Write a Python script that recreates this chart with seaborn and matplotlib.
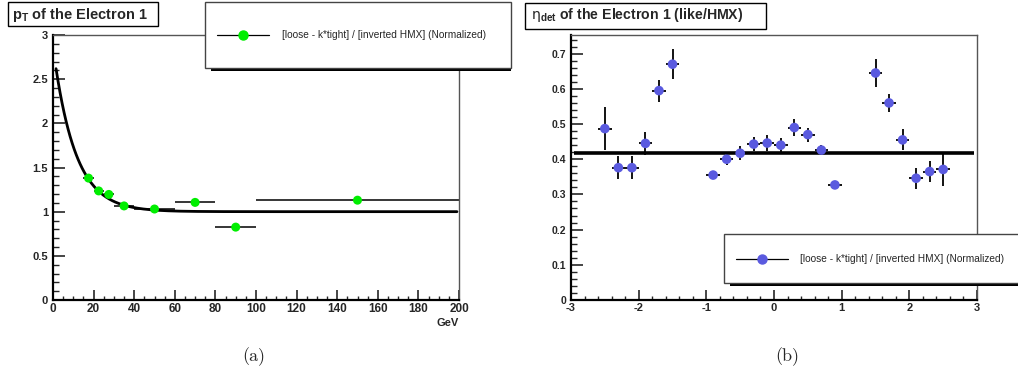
import numpy as np
import matplotlib
matplotlib.use("Agg")
import matplotlib.pyplot as plt
from matplotlib.patches import Rectangle
from matplotlib.lines import Line2D
from matplotlib.ticker import MultipleLocator
import pandas as pd
import seaborn as sns

# left panel: pT ratio per bin
pt_centers = [17.5, 22.5, 27.5, 35, 50, 70, 90, 150]
pt_halfwidth = [2.5, 2.5, 2.5, 5, 10, 10, 10, 50]
pt_ratio = [1.38, 1.235, 1.195, 1.065, 1.03, 1.105, 0.825, 1.13]
pt_err = [0.02, 0.015, 0.015, 0.012, 0.01, 0.012, 0.012, 0.01]
# exponential fit: const + amp * exp(-x / tau)
fit_const, fit_amp, fit_tau = 1.0, 1.86, 10.8
fit_lo, fit_hi = 1.5, 199

# right panel: eta_det ratio per bin
eta_centers = [-2.5, -2.3, -2.1, -1.9, -1.7, -1.5, -0.9, -0.7, -0.5, -0.3, -0.1,
               0.1, 0.3, 0.5, 0.7, 0.9, 1.5, 1.7, 1.9, 2.1, 2.3, 2.5]
eta_ratio = [0.487, 0.376, 0.376, 0.445, 0.595, 0.670, 0.355, 0.400, 0.417, 0.443, 0.446,
             0.440, 0.490, 0.470, 0.426, 0.327, 0.645, 0.560, 0.455, 0.346, 0.365, 0.371]
eta_err = [0.06, 0.033, 0.033, 0.033, 0.031, 0.043, 0.01, 0.017, 0.02, 0.02, 0.022,
           0.02, 0.025, 0.02, 0.015, 0.01, 0.04, 0.026, 0.03, 0.03, 0.03, 0.047]
eta_fit = 0.418

legend_text = "[loose - k*tight] / [inverted HMX] (Normalized)"
green = "#00ee00"
blue = "#5a5adf"

sns.set_style("ticks")
plt.rcParams["font.family"] = ["Liberation Sans", "DejaVu Sans"]
plt.rcParams["axes.unicode_minus"] = False
plt.rcParams["mathtext.fontset"] = "custom"
plt.rcParams["mathtext.bf"] = "Liberation Sans:bold"
plt.rcParams["mathtext.rm"] = "DejaVu Sans"

W, H = 1018, 385
fig = plt.figure(figsize=(W / 100, H / 100), dpi=100)


def fx(x):
    return x / W


def fy(y):
    return 1 - y / H


def style_axes(ax, ylen, xlen, xsize, ysize):
    for s in ["left", "bottom"]:
        ax.spines[s].set_linewidth(1.6)
        ax.spines[s].set_color("black")
    for s in ["top", "right"]:
        ax.spines[s].set_linewidth(1.0)
        ax.spines[s].set_color("#555555")
    ax.tick_params(axis="y", which="major", direction="in", length=ylen, width=1.2,
                   labelsize=ysize, pad=3.5, right=False)
    ax.tick_params(axis="y", which="minor", direction="in", length=ylen / 2, width=1.0, right=False)
    ax.tick_params(axis="x", which="major", direction="in", length=xlen, width=1.2,
                   labelsize=xsize, pad=2, top=False)
    ax.tick_params(axis="x", which="minor", direction="in", length=xlen / 2.4, width=1.0, top=False)
    for lab in ax.get_xticklabels() + ax.get_yticklabels():
        lab.set_fontweight("bold")
    ax.set_xlabel("")
    ax.set_ylabel("")


# ---------- left panel ----------
ax1 = fig.add_axes([fx(53), fy(300), fx(406), 265 / H])
df_pt = pd.DataFrame({"pt": pt_centers, "ratio": pt_ratio})
xs = np.linspace(fit_lo, fit_hi, 400)
df_fit = pd.DataFrame({"pt": xs, "fit": fit_const + fit_amp * np.exp(-xs / fit_tau)})
ax1.errorbar(pt_centers, pt_ratio, xerr=pt_halfwidth, yerr=pt_err, fmt="none",
             ecolor="black", elinewidth=1.1, zorder=2)
sns.lineplot(data=df_fit, x="pt", y="fit", ax=ax1, color="black", lw=2.0, zorder=3)
sns.scatterplot(data=df_pt, x="pt", y="ratio", ax=ax1, color=green, s=42,
                edgecolor="none", zorder=4)
ax1.set_xlim(0, 200)
ax1.set_ylim(0, 3)
ax1.xaxis.set_major_locator(MultipleLocator(20))
ax1.xaxis.set_minor_locator(MultipleLocator(5))
ax1.yaxis.set_minor_locator(MultipleLocator(0.1))
ax1.set_yticks([0, 0.5, 1, 1.5, 2, 2.5, 3])
ax1.set_yticklabels(["0", "0.5", "1", "1.5", "2", "2.5", "3"])
style_axes(ax1, 8.5, 7, 8.5, 8)
fig.text(fx(459), fy(323), "GeV", ha="right", va="center", fontsize=8, fontweight="bold")

# ---------- right panel ----------
ax2 = fig.add_axes([fx(571), fy(300), fx(406), 265 / H])
df_eta = pd.DataFrame({"eta": eta_centers, "ratio": eta_ratio})
ax2.errorbar(eta_centers, eta_ratio, xerr=0.1, yerr=eta_err, fmt="none",
             ecolor="black", elinewidth=1.3, zorder=2)
ax2.hlines(eta_fit, -2.95, 2.95, color="black", lw=2.6, zorder=3)
sns.scatterplot(data=df_eta, x="eta", y="ratio", ax=ax2, color=blue, s=48,
                edgecolor="none", zorder=4)
ax2.set_xlim(-3, 3)
ax2.set_ylim(0, 0.753)
ax2.xaxis.set_major_locator(MultipleLocator(1))
ax2.xaxis.set_minor_locator(MultipleLocator(0.2))
ax2.set_yticks([0, 0.1, 0.2, 0.3, 0.4, 0.5, 0.6, 0.7])
ax2.set_yticklabels(["0", "0.1", "0.2", "0.3", "0.4", "0.5", "0.6", "0.7"])
ax2.yaxis.set_minor_locator(MultipleLocator(0.02))
style_axes(ax2, 8.8, 7, 8, 7.5)


# ---------- titles and legends (drawn in figure pixels) ----------
def box(x0, y0, x1, y1, shadow=None, ec="black", lw=1.0):
    if shadow:
        fig.add_artist(Rectangle((fx(x0 + shadow), fy(y1 + 3)), fx(x1 - x0 - shadow), 3 / H,
                                 transform=fig.transFigure, fc="black", ec="none", zorder=5))
    fig.add_artist(Rectangle((fx(x0), fy(y1)), fx(x1 - x0), (y1 - y0) / H,
                             transform=fig.transFigure, fc="white", ec=ec, lw=lw, zorder=6))


def legend_entry(x0, x1, y, tx, color):
    fig.add_artist(Line2D([fx(x0), fx(x1)], [fy(y), fy(y)], transform=fig.transFigure,
                          color="black", lw=0.9, zorder=7))
    fig.add_artist(Line2D([fx((x0 + x1) / 2)], [fy(y)], transform=fig.transFigure,
                          marker="o", ms=6.5, mfc=color, mec=color, lw=0, zorder=8))
    fig.text(fx(tx), fy(y), legend_text, ha="left", va="center", fontsize=7.3, zorder=8)


box(8, 2, 158, 26)
fig.text(fx(12), fy(14.5), r"$\mathbf{p_{T}}$ of the Electron 1", ha="left", va="center",
         fontsize=10.5, fontweight="bold", zorder=8)
box(525, 3, 766, 29)
fig.text(fx(531), fy(15.5), r"$\mathrm{η}_{\mathbf{det}}$ of the Electron 1 (like/HMX)", ha="left",
         va="center", fontsize=10.2, fontweight="bold", zorder=8)

box(205, 2, 511, 68, shadow=6, ec="#444444")
legend_entry(217, 269, 35, 282, green)
box(724, 234, 1030, 283, shadow=6, ec="#444444")
legend_entry(736, 788, 259, 800, blue)

fig.text(fx(254), fy(357), "(a)", ha="center", va="center", fontsize=13, family="cmr10")
fig.text(fx(787), fy(357), "(b)", ha="center", va="center", fontsize=13, family="cmr10")

fig.savefig("out.png", dpi=100)
